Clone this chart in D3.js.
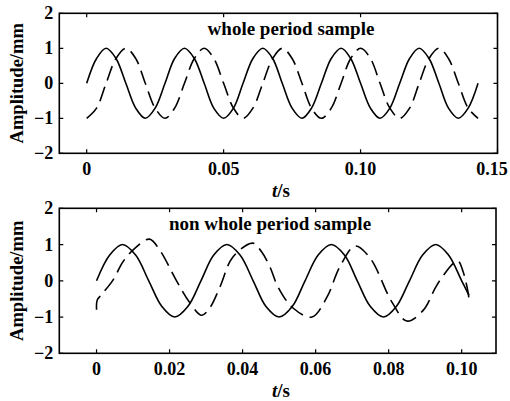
<!DOCTYPE html>
<html>
<head>
<meta charset="utf-8">
<script src="https://cdn.jsdelivr.net/npm/d3@7"></script>
<style>
  body { margin: 0; background: #fff; }
  text { font-family: "Liberation Serif", "DejaVu Serif", serif; font-weight: bold; fill: #000; }
</style>
</head>
<body>
<div id="chart"></div>
<script>
// top panel: whole period sample (time in s, amplitude in mm)
const topTime = [0, 0.0036, 0.0071, 0.0107, 0.0143, 0.0179, 0.0214, 0.0250, 0.0286, 0.0321,
  0.0357, 0.0393, 0.0429, 0.0464, 0.0500, 0.0536, 0.0571, 0.0607, 0.0643, 0.0679,
  0.0714, 0.0750, 0.0786, 0.0821, 0.0857, 0.0893, 0.0929, 0.0964, 0.1000, 0.1036,
  0.1071, 0.1107, 0.1143, 0.1179, 0.1214, 0.1250, 0.1286, 0.1321, 0.1357, 0.1393, 0.1429];
const topSolid = [0, 0.71, 1, 0.71, 0, -0.71, -1, -0.71, 0, 0.71,
  1, 0.71, 0, -0.71, -1, -0.71, 0, 0.71, 1, 0.71,
  0, -0.71, -1, -0.71, 0, 0.71, 1, 0.71, 0, -0.71,
  -1, -0.71, 0, 0.71, 1, 0.71, 0, -0.71, -1, -0.71, 0];
const topDashed = [-1, -0.71, 0, 0.71, 1, 0.71, 0, -0.71, -1, -0.71,
  0, 0.71, 1, 0.71, 0, -0.71, -1, -0.71, 0, 0.71,
  1, 0.71, 0, -0.71, -1, -0.71, 0, 0.71, 1, 0.71,
  0, -0.71, -1, -0.71, 0, 0.71, 1, 0.71, 0, -0.71, -1];

// bottom panel: non whole period sample
const botSolidTime = [0, 0.0036, 0.0071, 0.0107, 0.0143, 0.0179, 0.0214, 0.0250, 0.0286, 0.0321,
  0.0357, 0.0393, 0.0429, 0.0464, 0.0500, 0.0536, 0.0571, 0.0607, 0.0643, 0.0679,
  0.0714, 0.0750, 0.0786, 0.0821, 0.0857, 0.0893, 0.0929, 0.0964, 0.1000, 0.1020];
const botSolid = [0, 0.71, 1, 0.71, 0, -0.71, -1, -0.71, 0, 0.71,
  1, 0.71, 0, -0.71, -1, -0.71, 0, 0.71, 1, 0.71,
  0, -0.71, -1, -0.71, 0, 0.71, 1, 0.71, 0, -0.40];
const botDashTime = [0, 0.0002, 0.0013, 0.0045, 0.0072, 0.0104, 0.0145, 0.0173, 0.0218, 0.0255,
  0.0288, 0.0310, 0.0338, 0.0373, 0.0428, 0.0452, 0.0475, 0.0497, 0.0538, 0.0590,
  0.0631, 0.0666, 0.0708, 0.0749, 0.0809, 0.0850, 0.0895, 0.0927, 0.0941, 0.0977,
  0.0990, 0.1004, 0.1018, 0.1021];
const botDashed = [-0.80, -0.53, -0.39, 0.02, 0.52, 0.89, 1.15, 0.85, 0.02, -0.60,
  -0.95, -0.75, -0.17, 0.65, 1.04, 0.80, 0.38, -0.17, -0.75, -1.0,
  -0.45, 0.38, 0.96, 0.63, -0.59, -1.11, -0.81, -0.21, 0.02, 0.48,
  0.55, 0.25, -0.35, -0.65];

const yTicks = [2, 1, 0, -1, -2];
const topXTicks = [0, 0.05, 0.10, 0.15];
const topXLabels = ["0", "0.05", "0.10", "0.15"];
const botXTicks = [0, 0.02, 0.04, 0.06, 0.08, 0.10];
const botXLabels = ["0", "0.02", "0.04", "0.06", "0.08", "0.10"];

const svg = d3.select("#chart").append("svg")
  .attr("width", 510)
  .attr("height", 401);

function drawPanel(cfg) {
  const x = d3.scaleLinear().domain(cfg.xDomain).range([cfg.left, cfg.right]);
  const y = d3.scaleLinear().domain([-2, 2]).range([cfg.bottom, cfg.top]);
  const g = svg.append("g");

  // ticks inward on all four sides
  const tl = 4;
  g.selectAll(".xt").data(cfg.xTicks).enter().append("path")
    .attr("d", d => `M${x(d)},${cfg.bottom}v${-tl}M${x(d)},${cfg.top}v${tl}`)
    .attr("stroke", "#000").attr("stroke-width", 1.2);
  g.selectAll(".yt").data(yTicks).enter().append("path")
    .attr("d", d => `M${cfg.left},${y(d)}h${tl}M${cfg.right},${y(d)}h${-tl}`)
    .attr("stroke", "#000").attr("stroke-width", 1.2);

  // curves
  const line = (xs) => d3.line()
    .x((d, i) => x(xs[i]))
    .y(d => y(d))
    .curve(d3.curveCatmullRom.alpha(0.5));

  g.append("path").datum(cfg.dashed)
    .attr("d", line(cfg.dashTime))
    .attr("fill", "none").attr("stroke", "#000").attr("stroke-width", 1.6)
    .attr("stroke-dasharray", "15,7");
  g.append("path").datum(cfg.solid)
    .attr("d", line(cfg.solidTime))
    .attr("fill", "none").attr("stroke", "#000").attr("stroke-width", 1.6);

  // box
  g.append("rect")
    .attr("x", cfg.left).attr("y", cfg.top)
    .attr("width", cfg.right - cfg.left).attr("height", cfg.bottom - cfg.top)
    .attr("fill", "none").attr("stroke", "#000").attr("stroke-width", 1.6);

  // tick labels (the last one is kept inside the page edge)
  g.selectAll(".xl").data(cfg.xTicks).enter().append("text")
    .attr("x", d => Math.min(x(d), 492)).attr("y", cfg.bottom + 22)
    .attr("text-anchor", "middle").attr("font-size", 18)
    .text((d, i) => cfg.xLabels[i]);
  g.selectAll(".yl").data(yTicks).enter().append("text")
    .attr("x", cfg.left - 6).attr("y", d => y(d) + 6)
    .attr("text-anchor", "end").attr("font-size", 18)
    .text(d => d < 0 ? "\u2212" + Math.abs(d) : d);

  // title inside the box
  g.append("text")
    .attr("x", cfg.titleX).attr("y", cfg.top + 22)
    .attr("text-anchor", "middle").attr("font-size", 19)
    .text(cfg.title);

  // axis labels
  const xl = g.append("text")
    .attr("x", 281).attr("y", cfg.bottom + 44)
    .attr("text-anchor", "middle").attr("font-size", 19);
  xl.append("tspan").attr("font-style", "italic").text("t");
  xl.append("tspan").text("/s");

  g.append("text")
    .attr("transform", `translate(23, ${(cfg.top + cfg.bottom) / 2}) rotate(-90)`)
    .attr("text-anchor", "middle").attr("font-size", 18.5)
    .text("Amplitude/mm");
}

drawPanel({
  left: 59.3, right: 497.5, top: 13.3, bottom: 153.3,
  xDomain: [-0.01, 0.15],
  xTicks: topXTicks, xLabels: topXLabels,
  solidTime: topTime, solid: topSolid,
  dashTime: topTime, dashed: topDashed,
  title: "whole period sample", titleX: 291
});

drawPanel({
  left: 59.3, right: 496, top: 208.3, bottom: 353.3,
  xDomain: [-0.0102, 0.1094],
  xTicks: botXTicks, xLabels: botXLabels,
  solidTime: botSolidTime, solid: botSolid,
  dashTime: botDashTime, dashed: botDashed,
  title: "non whole period sample", titleX: 270
});
</script>
</body>
</html>
